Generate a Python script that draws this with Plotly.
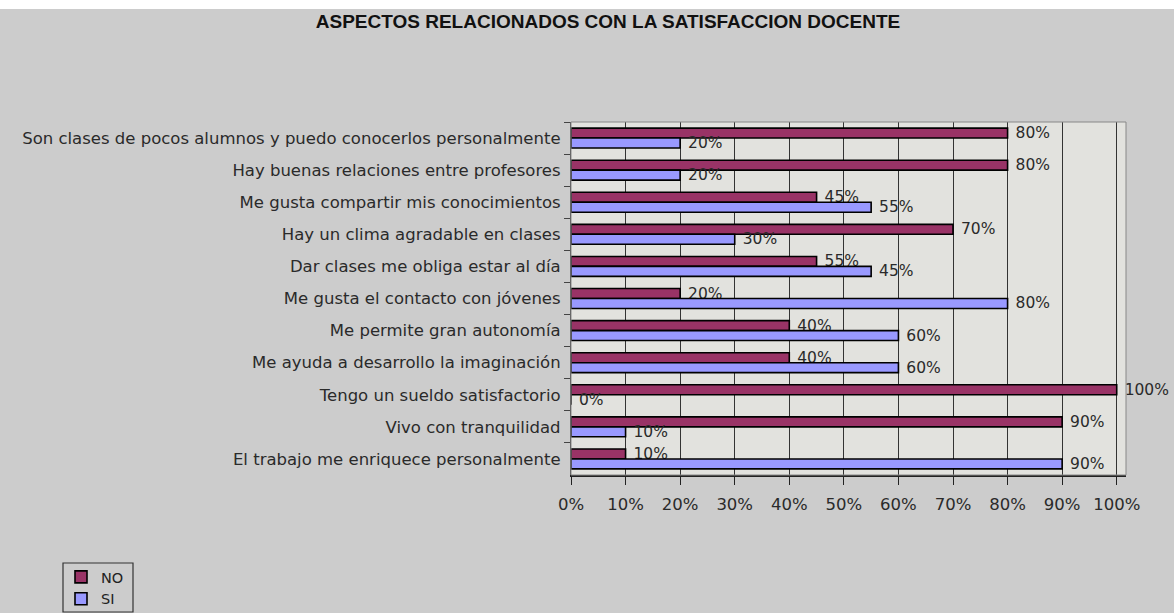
import plotly.graph_objects as go

categories = [
    "Son clases de pocos alumnos y puedo conocerlos personalmente",
    "Hay buenas relaciones entre profesores",
    "Me gusta compartir mis conocimientos",
    "Hay un clima agradable en clases",
    "Dar clases me obliga estar al día",
    "Me gusta el contacto con jóvenes",
    "Me permite gran autonomía",
    "Me ayuda a desarrollo la imaginación",
    "Tengo un sueldo satisfactorio",
    "Vivo con tranquilidad",
    "El trabajo me enriquece personalmente",
]
no_values = [80, 80, 45, 70, 45, 20, 40, 40, 100, 90, 10]
si_values = [20, 20, 55, 30, 55, 80, 60, 60, 0, 10, 90]
no_labels = ["80%", "80%", "45%", "70%", "55%", "20%", "40%", "40%", "100%", "90%", "10%"]
si_labels = ["20%", "20%", "55%", "30%", "45%", "80%", "60%", "60%", "0%", "10%", "90%"]
x_ticks = [0, 10, 20, 30, 40, 50, 60, 70, 80, 90, 100]
x_tick_labels = ["0%", "10%", "20%", "30%", "40%", "50%", "60%", "70%", "80%", "90%", "100%"]

W, H = 1174, 613
L, R, T, B = 571, 1126, 122, 475
FONT = "DejaVu Sans, Verdana, Arial"
FS = 16.5

fig = go.Figure()
for name, vals, labs, col in [("NO", no_values, no_labels, "#993366"),
                              ("SI", si_values, si_labels, "#9999FF")]:
    fig.add_trace(go.Bar(
        name=name, y=categories, x=vals, orientation="h",
        marker=dict(color=col, line=dict(color="#000000", width=1.6)),
        text=labs, texttemplate=" %{text}", textposition="outside",
        cliponaxis=False, constraintext="none", textangle=0,
        textfont=dict(family=FONT, size=15.5, color="#2a2a2a"),
    ))

ph = B - T
pw = R - L


def px_x(x):
    return (x - L) / pw


def px_y(y):
    return (B - y) / ph


fig.add_shape(type="rect", xref="paper", yref="paper",
              x0=px_x(0), x1=px_x(W), y0=px_y(9), y1=px_y(-20),
              fillcolor="white", line=dict(width=0), layer="below")
# legend frame
fig.add_shape(type="rect", xref="paper", yref="paper",
              x0=px_x(63), x1=px_x(133), y0=px_y(612), y1=px_y(563),
              fillcolor="rgba(0,0,0,0)", line=dict(color="#333333", width=1.2), layer="above")

fig.update_layout(
    width=W, height=H,
    margin=dict(l=L, r=W - R, t=T, b=H - B, pad=0, autoexpand=False),
    paper_bgcolor="#cccccc",
    plot_bgcolor="#e2e2de",
    barmode="group", bargap=0.38, bargroupgap=0.0,
    title=dict(text="<b>ASPECTOS RELACIONADOS CON LA SATISFACCION DOCENTE</b>",
               x=608 / W, xanchor="center", y=1 - 21 / H, yanchor="middle",
               font=dict(family="Arial, Liberation Sans", size=19, color="#111111")),
    font=dict(family=FONT, size=FS, color="#2a2a2a"),
    showlegend=True,
    legend=dict(x=px_x(61), xanchor="left",
                y=px_y(561), yanchor="top",
                bgcolor="rgba(0,0,0,0)", borderwidth=0,
                font=dict(size=14.5, family=FONT, color="#222222"),
                tracegroupgap=0, itemwidth=30),
    xaxis=dict(range=[0, 101.7], tickvals=x_ticks, ticktext=x_tick_labels,
               showgrid=True, gridcolor="#333333", gridwidth=1.3,
               showline=True, linecolor="#222222", linewidth=1.5,
               ticks="outside", ticklen=8, tickcolor="#222222", ticklabelstandoff=5,
               tickfont=dict(size=FS, family=FONT), zeroline=False, mirror=False),
    yaxis=dict(autorange="reversed", showgrid=False, showline=True,
               linecolor="#444444", linewidth=1.2,
               ticks="outside", tickson="boundaries", ticklen=6, tickcolor="#444444",
               ticklabelstandoff=6, tickfont=dict(size=FS, family=FONT)),
)
fig.add_shape(type="rect", xref="paper", yref="paper", x0=0, x1=1, y0=0, y1=1,
              line=dict(color="#888888", width=1), layer="above")

fig.write_html("out.html", config={"displayModeBar": False},
               post_script="document.body.style.margin='0';document.body.style.overflow='hidden';")
